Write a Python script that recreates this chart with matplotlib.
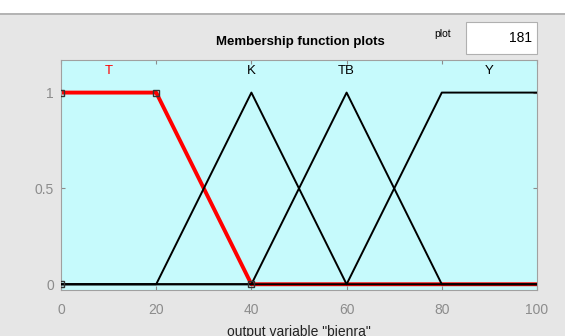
import matplotlib.pyplot as plt
from matplotlib.patches import Rectangle

# membership functions of output variable "bienra"
names = ["T", "K", "TB", "Y"]
xs = [[0, 20, 40, 100], [0, 20, 40, 60, 100], [0, 40, 60, 80, 100], [0, 60, 80, 100]]
ys = [[1, 1, 0, 0], [0, 0, 1, 0, 0], [0, 0, 1, 0, 0], [0, 0, 1, 1]]
label_x = [10, 40, 60, 90]
selected = 0
xticks = [0, 20, 40, 60, 80, 100]
yticks = [0, 0.5, 1]

fig = plt.figure(figsize=(5.65, 3.36), dpi=100)
fig.patch.set_facecolor("#e6e6e6")
# white strip at the top with a thin separator
fig.patches.append(Rectangle((0, 1 - 13 / 336), 1, 13 / 336, transform=fig.transFigure,
                             facecolor="white", edgecolor="none"))
fig.patches.append(Rectangle((0, 1 - 14.5 / 336), 1, 1.5 / 336, transform=fig.transFigure,
                             facecolor="#b4b4b4", edgecolor="none"))

ax = fig.add_axes([61 / 565, 1 - 290 / 336, 476 / 565, 230 / 336])
ax.set_facecolor("#c6fafc")

for i in range(len(names)):
    if i == selected:
        ax.plot(xs[i], ys[i], color="red", lw=2.8, zorder=2)
    else:
        ax.plot(xs[i], ys[i], color="black", lw=1.4, zorder=3)
    ax.text(label_x[i], 1.11, names[i], ha="center", va="center", fontsize=9.5,
            color="red" if i == selected else "black", family="Liberation Sans")

# vertex markers of the selected function
ax.plot(xs[selected][:3], ys[selected][:3], ls="none", marker="s", ms=5,
        mfc="none", mec="#333333", mew=1, zorder=4)
ax.plot([0], [0], ls="none", marker="s", ms=5, mfc="none", mec="#333333", mew=1, zorder=4)

ax.set_xlim(0, 100)
ax.set_ylim(-0.03, 1.17)
ax.set_xticks(xticks)
ax.set_yticks(yticks)
ax.set_xticklabels([str(t) for t in xticks])
ax.set_yticklabels(["0", "0.5", "1"])
ax.tick_params(colors="#8c8c8c", labelsize=10, length=3, top=True, right=True, direction="in")
ax.tick_params(axis="x", pad=9)
ax.tick_params(axis="y", pad=5)
for lab in ax.get_xticklabels() + ax.get_yticklabels():
    lab.set_family("Liberation Sans")
for s in ax.spines.values():
    s.set_color("#a0a0a0")
ax.set_xlabel('output variable "bienra"', fontsize=10, family="Liberation Sans",
              color="#222222", labelpad=6)

fig.text(300 / 565, 1 - 42 / 336, "Membership function plots", ha="center", va="center",
         fontsize=9.5, fontweight="bold", family="Liberation Sans")
fig.text(443 / 565, 1 - 34 / 336, "plot", ha="center", va="center", fontsize=7.5,
         family="Liberation Sans")
fig.patches.append(Rectangle((466 / 565, 1 - 54 / 336), 71 / 565, 32 / 336,
                             transform=fig.transFigure, facecolor="white",
                             edgecolor="#b0b0b0", lw=0.8))
fig.text(532 / 565, 1 - 38 / 336, "181", ha="right", va="center", fontsize=10,
         family="Liberation Sans")

fig.savefig("out.png", dpi=100, facecolor=fig.get_facecolor())
